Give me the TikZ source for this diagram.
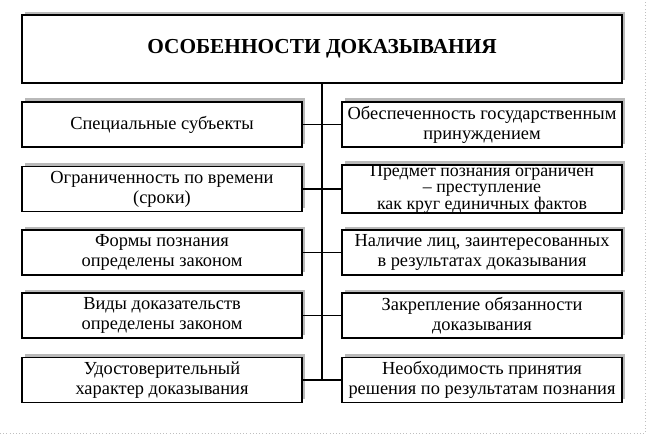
\documentclass[tikz,border=0pt]{standalone}
\usepackage{fontspec}
\setmainfont{Liberation Serif}
\usetikzlibrary{shadows}
\tikzset{
	box/.style={draw, line width=1.1pt, fill=white, align=center, inner sep=0pt,
		minimum width=210pt, minimum height=34pt,
		font=\fontsize{13.8}{15}\selectfont,
		drop shadow={shadow xshift=2.5pt, shadow yshift=2.5pt, fill=gray!55, opacity=1}},
	tightbox/.style={box, font=\fontsize{13.4}{12.3}\selectfont},
	titlebox/.style={box, line width=1.5pt, minimum width=450pt, minimum height=51pt,
		font=\fontsize{16}{18}\bfseries},
	link/.style={line width=1pt}
}

\begin{document}
\begin{tikzpicture}[x=0.75pt, y=-0.75pt]
				
				\useasboundingbox (0,0) rectangle (647,435);
				\draw[gray!50, dotted] (0,433) -- (645,433) -- (645,0);
				
				
				\node[titlebox] (title) at (322,49) {ОСОБЕННОСТИ ДОКАЗЫВАНИЯ};
				
				
				\node[box] (l1) at (162,124.5) {Специальные субъекты};
				\node[box] (l2) at (162,189) {Ограниченность по времени\\(сроки)};
				\node[box] (l3) at (162,252.5) {Формы познания\\определены законом};
				\node[box] (l4) at (162,315.5) {Виды доказательств\\определены законом};
				\node[box] (l5) at (162,380) {Удостоверительный\\характер доказывания};
				
				
				\node[box] (r1) at (482,124.5) {Обеспеченность государственным\\принуждением};
				\node[tightbox] (r2) at (482,189) {Предмет познания ограничен\\-- преступление\\как круг единичных фактов};
				\node[box] (r3) at (482,252.5) {Наличие лиц, заинтересованных\\в результатах доказывания};
				\node[box] (r4) at (482,315.5) {Закрепление обязанности\\доказывания};
				\node[box] (r5) at (482,380) {Необходимость принятия\\решения по результатам познания};
				
				
				\draw[link] (title.south) -- (title.south |- l5.east);
				\draw[link] (l1.east) -- (r1.west);
				\draw[link] (l2.east) -- (r2.west);
				\draw[link] (l3.east) -- (r3.west);
				\draw[link] (l4.east) -- (r4.west);
				\draw[link] (l5.east) -- (r5.west);
				
			\end{tikzpicture}
\end{document}
